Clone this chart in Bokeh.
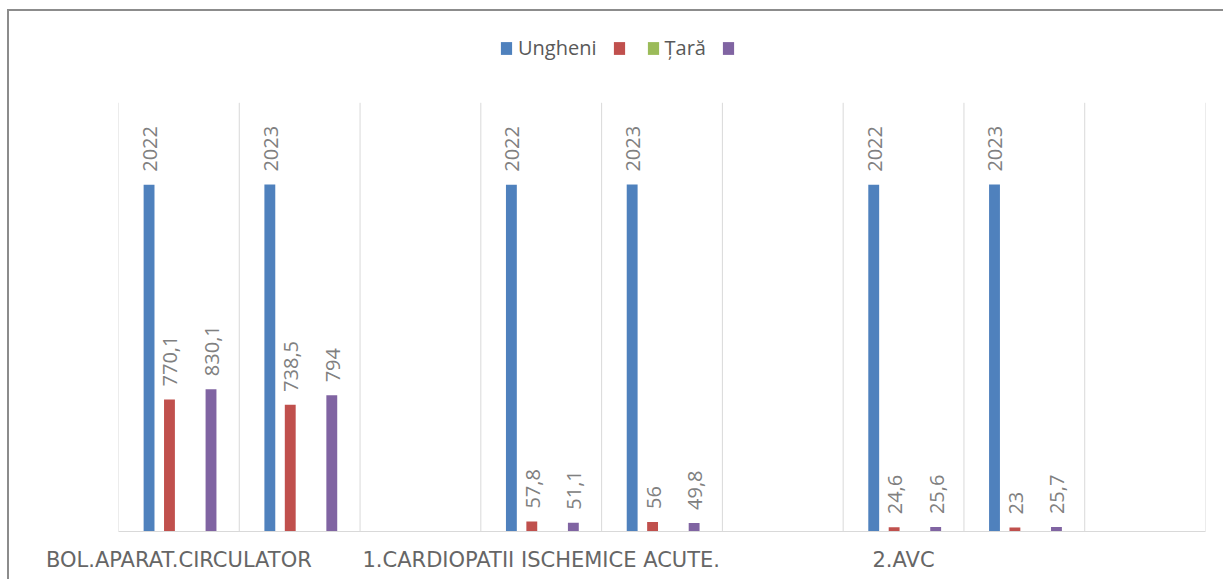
from bokeh.plotting import figure
from bokeh.models import ColumnDataSource, Legend, LegendItem, FixedTicker, LabelSet
from bokeh.core.properties import value
from bokeh.transform import dodge
from bokeh.embed import file_html
from bokeh.resources import INLINE
import math

# ---- data ----
categories = ["BOL.APARAT.CIRCULATOR", "", "", "1.CARDIOPATII ISCHEMICE ACUTE.", "", "", "2.AVC", "", ""]
ungheni = [2022, 2023, None, 2022, 2023, None, 2022, 2023, None]
serie2 = [770.1, 738.5, None, 57.8, 56, None, 24.6, 23, None]
tara = [None, None, None, None, None, None, None, None, None]
serie4 = [830.1, 794, None, 51.1, 49.8, None, 25.6, 25.7, None]
series_names = ["Ungheni", " ", "Țară", " "]
axis_max = 2500

colors = ["#4F81BD", "#C0504D", "#9BBB59", "#8064A2"]
offsets = [-0.247, -0.078, 0.094, 0.266]

def fmt(v):
    if v is None:
        return ""
    return f"{v:g}".replace(".", ",")

def nz(vals):
    return [float("nan") if v is None else v for v in vals]

n = len(categories)
xs = [i + 0.5 for i in range(n)]

p = figure(width=1216, height=570, output_backend="svg", toolbar_location=None,
           x_range=(0, n), y_range=(0, 2980),
           min_border_left=109, min_border_right=20, min_border_top=9, min_border_bottom=50)
p.styles = {"margin-left": "7px", "margin-top": "9px",
            "border-left": "2px solid #8c8c8c", "border-top": "2px solid #8c8c8c"}
p.outline_line_color = None
p.background_fill_color = "white"
p.border_fill_color = "white"

# vertical category separators (Excel gridlines), limited to plot area
bounds = list(range(n + 1))
p.segment(x0=bounds, y0=[0] * len(bounds), x1=bounds, y1=[axis_max] * len(bounds),
          line_color="#d9d9d9", line_width=1)

renderers = []
for name, vals, col, off in zip(series_names, [ungheni, serie2, tara, serie4], colors, offsets):
    src = ColumnDataSource(dict(x=xs, top=nz(vals), lab=[fmt(v) for v in vals]))
    r = p.vbar(x=dodge("x", off), top="top", width=0.09, source=src,
               fill_color=col, line_color=None)
    renderers.append(r)
    labels = LabelSet(x=dodge("x", off), y="top", text="lab", source=src,
                      angle=math.pi / 2, text_align="left", text_baseline="middle",
                      y_offset=13, x_offset=1, text_font=value("Open Sans"),
                      text_font_size="20px", text_color="#808080")
    p.add_layout(labels)

# axes / grid
p.yaxis.visible = False
p.ygrid.grid_line_color = None
p.xgrid.grid_line_color = None

p.xaxis.ticker = FixedTicker(ticks=[x for x, c in zip(xs, categories) if c])
p.xaxis.major_label_overrides = {x: c for x, c in zip(xs, categories) if c}
p.xaxis.axis_line_color = "#d9d9d9"
p.xaxis.major_tick_line_color = None
p.xaxis.minor_tick_line_color = None
p.xaxis.major_label_text_font = "DejaVu Sans"
p.xaxis.major_label_text_font_size = "21px"
p.xaxis.major_label_text_color = "#666666"
p.xaxis.major_label_standoff = 10

legend = Legend(items=[LegendItem(label=nm, renderers=[r]) for nm, r in zip(series_names, renderers)],
                orientation="horizontal", location=(381, 470),
                glyph_width=14, glyph_height=16, label_standoff=5, spacing=15,
                label_width=0,
                label_text_font="Open Sans", label_text_font_size="20px",
                label_text_color="#595959", border_line_color=None,
                background_fill_alpha=0, padding=0, margin=0)
p.add_layout(legend)

open("out.html", "w").write(file_html(p, INLINE))
